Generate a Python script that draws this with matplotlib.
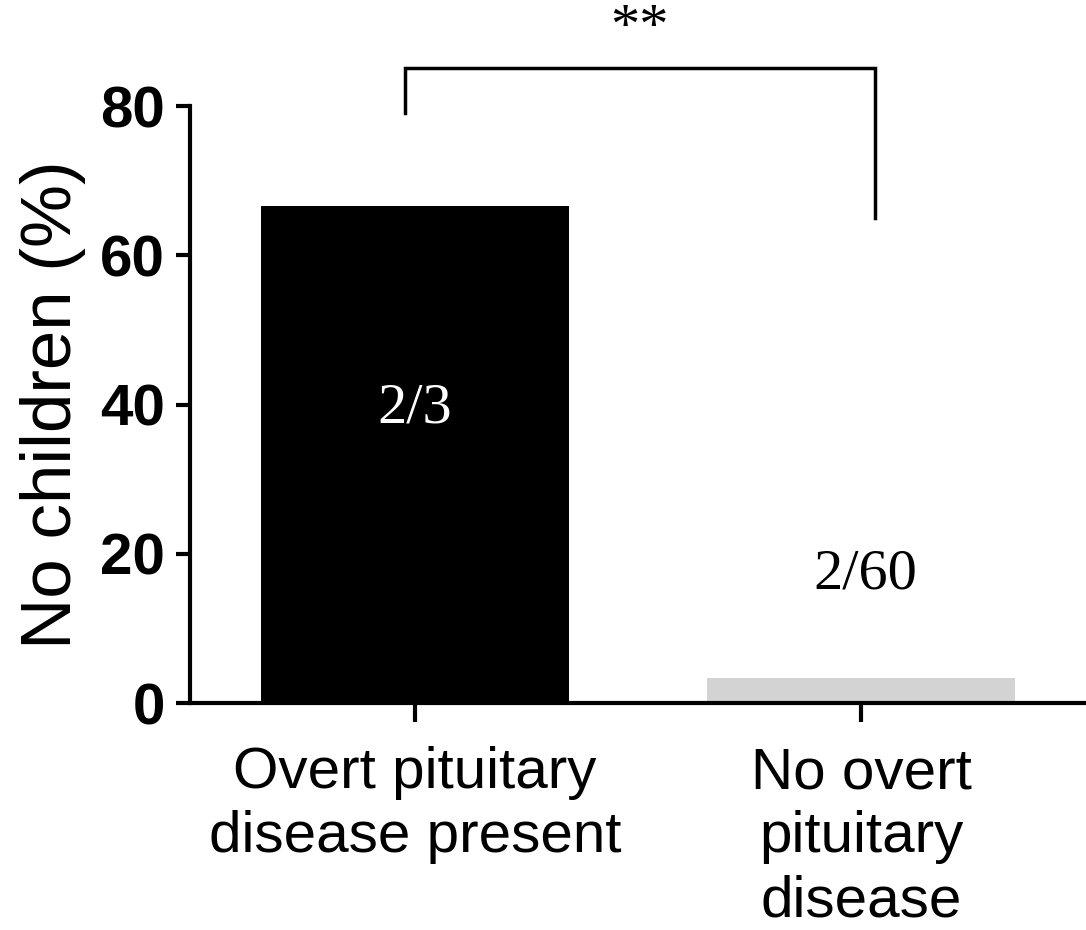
import matplotlib
matplotlib.use("Agg")
import matplotlib.pyplot as plt

# data
groups = ["Overt pituitary\ndisease present", "No overt\npituitary\ndisease"]
no_children_pct = [2 / 3 * 100, 2 / 60 * 100]
fraction_labels = ["2/3", "2/60"]
fraction_label_y = [39.5, 17.2]
bar_colors = ["black", "#d3d3d3"]
y_ticks = [0, 20, 40, 60, 80]
significance = "**"

plt.rcParams["font.family"] = ["Liberation Sans", "DejaVu Sans"]

fig = plt.figure(figsize=(10.86, 9.3), dpi=100)
ax = fig.add_axes([0.175, 0.244, 0.825, 0.642])

x = list(range(len(groups)))
ax.bar(x, no_children_pct, width=0.69, color=bar_colors)

for xi, label, ly, col in zip(x, fraction_labels, fraction_label_y, ["white", "black"]):
    ax.text(xi + 0.01 * xi, ly, label, ha="center", va="center", color=col,
            fontsize=42, family="Liberation Serif")

# significance bracket
ax.plot([-0.022, -0.022, 1.031, 1.031], [79.1, 85.1, 85.1, 65.0],
        color="black", lw=2.5, clip_on=False, solid_joinstyle="miter")
ax.text(0.504, 90.3, significance, ha="center", va="center",
        fontsize=42, family="Liberation Serif")

ax.set_xlim(-0.504, 1.504)
ax.set_ylim(0, 80)
ax.set_yticks(y_ticks)
ax.set_yticklabels([str(t) for t in y_ticks], fontsize=42, fontweight="bold")
ax.set_xticks(x)
ax.set_xticklabels(groups, fontsize=42, linespacing=1.24)
ax.set_ylabel("No children (%)", fontsize=51, labelpad=10)

for side in ["top", "right"]:
    ax.spines[side].set_visible(False)
for side in ["left", "bottom"]:
    ax.spines[side].set_linewidth(3)

ax.tick_params(axis="y", length=10, width=3, pad=8)
ax.tick_params(axis="x", length=14, width=3, pad=17)

fig.savefig("out.png", dpi=100)
